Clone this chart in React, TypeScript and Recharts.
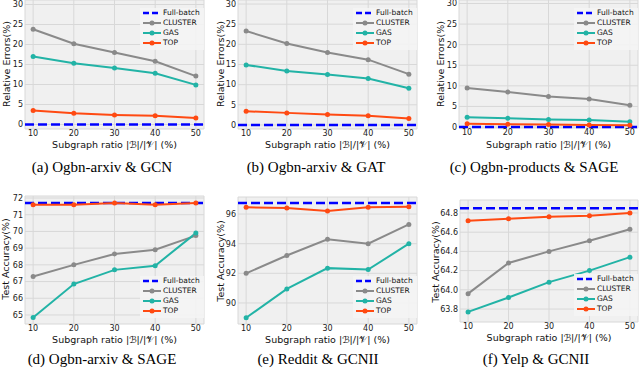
import React from 'react';
import { LineChart, Line, XAxis, YAxis, CartesianGrid, ReferenceLine } from 'recharts';

const ratios = [10, 20, 30, 40, 50];
const xTicks = [10, 20, 30, 40, 50];

// (a) Ogbn-arxiv & GCN
const aFull = 0;
const aCluster = [23.8, 20.2, 18.0, 15.8, 12.1];
const aGas = [17.0, 15.3, 14.1, 12.8, 9.9];
const aTop = [3.5, 2.8, 2.4, 2.2, 1.6];
// (b) Ogbn-arxiv & GAT
const bFull = 0;
const bCluster = [23.3, 20.2, 18.0, 16.2, 12.6];
const bGas = [14.9, 13.4, 12.5, 11.5, 9.1];
const bTop = [3.4, 3.0, 2.6, 2.3, 1.6];
// (c) Ogbn-products & SAGE
const cFull = 0;
const cCluster = [9.5, 8.5, 7.4, 6.8, 5.3];
const cGas = [2.4, 2.1, 1.8, 1.7, 1.3];
const cTop = [0.8, 0.7, 0.6, 0.5, 0.4];
// (d) Ogbn-arxiv & SAGE
const dFull = 71.7;
const dCluster = [67.3, 68.0, 68.65, 68.9, 69.75];
const dGas = [64.85, 66.85, 67.7, 67.95, 69.9];
const dTop = [71.6, 71.6, 71.7, 71.6, 71.7];
// (e) Reddit & GCNII
const eFull = 96.75;
const eCluster = [92.0, 93.2, 94.3, 94.0, 95.3];
const eGas = [89.0, 90.95, 92.35, 92.25, 94.0];
const eTop = [96.45, 96.4, 96.2, 96.45, 96.5];
// (f) Yelp & GCNII
const fFull = 64.85;
const fCluster = [63.96, 64.28, 64.40, 64.51, 64.63];
const fGas = [63.77, 63.92, 64.08, 64.20, 64.34];
const fTop = [64.72, 64.74, 64.76, 64.77, 64.80];

const errTicks = [0, 5, 10, 15, 20, 25, 30];
const dTicks = [65, 66, 67, 68, 69, 70, 71, 72];
const eTicks = [90, 92, 94, 96];
const fTicks = [63.8, 64.0, 64.2, 64.4, 64.6, 64.8];

const seriesNames = ['Full-batch', 'CLUSTER', 'GAS', 'TOP'];
const COL_FULL = '#0000ff';
const COL_CLUSTER = '#8a8a8a';
const COL_GAS = '#22b3a6';
const COL_TOP = '#ff4a12';
const seriesColors = [COL_FULL, COL_CLUSTER, COL_GAS, COL_TOP];

const SANS = '"DejaVu Sans", sans-serif';
const SERIF = '"Liberation Serif", "Times New Roman", serif';

const build = (c: number[], g: number[], t: number[]) =>
  ratios.map((x, i) => ({ x, cluster: c[i], gas: g[i], top: t[i] }));

const panels = [
  { key: 'a', L: 25, R: 204, T: 0, B: 129, dom: [-1.125, 31.125], ticks: errTicks, dec: 0,
    data: build(aCluster, aGas, aTop), full: aFull, yLabel: 'Relative Errors(%)', yLx: 6.5, yLy: 64,
    xLy: 145, cap: '(a) Ogbn-arxiv & GCN', capX: 102, capY: 167, leg: 'top' },
  { key: 'b', L: 238, R: 417, T: 0, B: 129, dom: [-1.0, 31.0], ticks: errTicks, dec: 0,
    data: build(bCluster, bGas, bTop), full: bFull, yLabel: 'Relative Errors(%)', yLx: 220.5, yLy: 64,
    xLy: 145, cap: '(b) Ogbn-arxiv & GAT', capX: 316, capY: 167, leg: 'top' },
  { key: 'c', L: 459, R: 638, T: 0, B: 128, dom: [-0.24, 30.85], ticks: errTicks, dec: 0,
    data: build(cCluster, cGas, cTop), full: cFull, yLabel: 'Relative Errors(%)', yLx: 440.5, yLy: 64,
    xLy: 145, cap: '(c) Ogbn-products & SAGE', capX: 534, capY: 167, leg: 'top' },
  { key: 'd', L: 25, R: 204, T: 196, B: 324, dom: [64.46, 72.12], ticks: dTicks, dec: 0,
    data: build(dCluster, dGas, dTop), full: dFull, yLabel: 'Test Accuracy(%)', yLx: 6, yLy: 259,
    xLy: 340, cap: '(d) Ogbn-arxiv & SAGE', capX: 102, capY: 359, leg: 'bottom' },
  { key: 'e', L: 238, R: 417, T: 197, B: 324, dom: [88.58, 97.15], ticks: eTicks, dec: 0,
    data: build(eCluster, eGas, eTop), full: eFull, yLabel: 'Test Accuracy(%)', yLx: 220.5, yLy: 261,
    xLy: 340, cap: '(e) Reddit & GCNII', capX: 318, capY: 359, leg: 'bottom' },
  { key: 'f', L: 460, R: 638, T: 200, B: 322, dom: [63.665, 64.935], ticks: fTicks, dec: 1,
    data: build(fCluster, fGas, fTop), full: fFull, yLabel: 'Test Accuracy(%)', yLx: 436, yLy: 262,
    xLy: 338, cap: '(f) Yelp & GCNII', capX: 536, capY: 359, leg: 'bottom' },
];

const LegendBox = ({ x, y }: { x: number; y: number }) => (
  <div style={{ position: 'absolute', left: x, top: y, width: 64, height: 42, background: 'rgba(244,244,244,0.9)' }}>
    {seriesNames.map((n, i) => (
      <div key={n} style={{ position: 'absolute', left: 0, top: i * 10.2, height: 10.2, width: 64 }}>
        <svg width={20} height={10} style={{ position: 'absolute', left: 2, top: 0 }}>
          {i === 0 ? (
            <line x1={1} y1={5} x2={19} y2={5} stroke={seriesColors[i]} strokeWidth={2.5} strokeDasharray="6 3" />
          ) : (
            <g>
              <line x1={1} y1={5} x2={19} y2={5} stroke={seriesColors[i]} strokeWidth={2} />
              <circle cx={10} cy={5} r={2.5} fill={seriesColors[i]} />
            </g>
          )}
        </svg>
        <span style={{ position: 'absolute', left: 23, top: 0, lineHeight: '10px', fontSize: 7.5, fontFamily: SANS, color: '#111', whiteSpace: 'nowrap' }}>{n}</span>
      </div>
    ))}
  </div>
);

const Panel = ({ p }: { p: any }) => {
  const YW = 26, XH = 16, PT = 6, PR = 3;
  const w = p.R - p.L + YW + PR;
  const h = p.B - p.T + PT + XH;
  const plotBottom = PT + (p.B - p.T);
  const dot = (c: string) => ({ r: 2.5, fill: c, stroke: c, strokeWidth: 0 });
  const legY = p.leg === 'top' ? p.T + 7.6 : p.B - 48.1;
  const yTick = (props: any) => (
    <text x={YW - 2} y={props.y} dy="0.355em" textAnchor="end" fontSize={8} fontFamily={SANS} fill="#1a1a1a">
      {Number(props.payload.value).toFixed(p.dec)}
    </text>
  );
  const xTick = (props: any) => (
    <text x={props.x} y={plotBottom + 1.5} dy="0.71em" textAnchor="middle" fontSize={8} fontFamily={SANS} fill="#1a1a1a">
      {props.payload.value}
    </text>
  );
  return (
    <>
      <div style={{ position: 'absolute', left: p.L - YW, top: p.T - PT }}>
        <LineChart width={w} height={h} data={p.data} margin={{ top: PT, right: PR, bottom: 0, left: 0 }}>
          <CartesianGrid fill="#f0f0f0" stroke="#d8d8d8" strokeWidth={1} />
          <XAxis dataKey="x" type="number" domain={[8, 52]} ticks={xTicks} allowDataOverflow
            axisLine={false} tickLine={false} tickSize={0} height={XH} tick={xTick} interval={0} />
          <YAxis type="number" domain={p.dom} ticks={p.ticks} allowDataOverflow width={YW}
            axisLine={false} tickLine={false} tickSize={0} tick={yTick} interval={0} />
          <ReferenceLine y={p.full} stroke={COL_FULL} strokeWidth={2.5} strokeDasharray="9 4" ifOverflow="visible" />
          <Line dataKey="cluster" stroke={COL_CLUSTER} strokeWidth={2} dot={dot(COL_CLUSTER)} isAnimationActive={false} />
          <Line dataKey="gas" stroke={COL_GAS} strokeWidth={2} dot={dot(COL_GAS)} isAnimationActive={false} />
          <Line dataKey="top" stroke={COL_TOP} strokeWidth={2} dot={dot(COL_TOP)} isAnimationActive={false} />
        </LineChart>
      </div>
      <LegendBox x={p.R - 64} y={legY} />
      <div style={{ position: 'absolute', left: p.yLx - 60, top: p.yLy - 6, width: 120, height: 12, textAlign: 'center',
        transform: 'rotate(-90deg)', fontSize: 9.5, lineHeight: '12px', fontFamily: SANS, color: '#111', whiteSpace: 'nowrap' }}>{p.yLabel}</div>
      <div style={{ position: 'absolute', left: (p.L + p.R) / 2 - 90, top: p.xLy - 7, width: 180, height: 14, textAlign: 'center',
        fontSize: 9.5, lineHeight: '14px', fontFamily: SANS, color: '#111', whiteSpace: 'nowrap' }}>Subgraph ratio |ℬ|/|𝒱| (%)</div>
      <div style={{ position: 'absolute', left: p.capX - 110, top: p.capY - 10, width: 220, height: 20, textAlign: 'center',
        fontSize: 15, lineHeight: '20px', fontFamily: SERIF, color: '#000', whiteSpace: 'nowrap' }}>{p.cap}</div>
    </>
  );
};

export default function App() {
  return (
    <div style={{ position: 'absolute', left: 0, top: 0, width: 640, height: 369, background: '#fff', overflow: 'hidden' }}>
      {panels.map((p) => <Panel key={p.key} p={p} />)}
    </div>
  );
}
